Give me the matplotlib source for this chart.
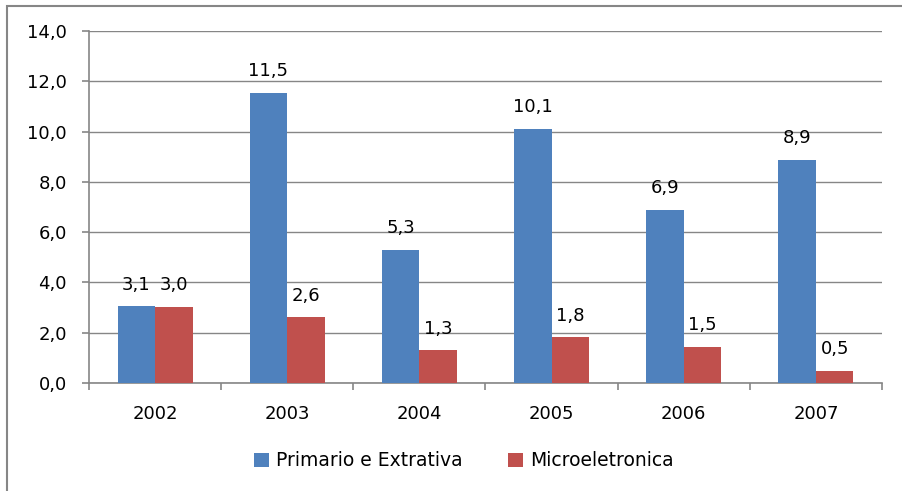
import matplotlib as mpl
mpl.use('Agg')
import matplotlib.pyplot as plt
import numpy as np
from matplotlib.patches import Rectangle

plt.rcParams['font.family'] = ['DejaVu Sans']

anos = ['2002', '2003', '2004', '2005', '2006', '2007']
primario = [3.06, 11.55, 5.3, 10.12, 6.9, 8.87]
micro = [3.04, 2.62, 1.3, 1.82, 1.45, 0.48]
rotulos_primario = ['3,1', '11,5', '5,3', '10,1', '6,9', '8,9']
rotulos_micro = ['3,0', '2,6', '1,3', '1,8', '1,5', '0,5']

azul = '#4F81BD'
vermelho = '#C0504D'
cinza = '#868686'
fs = 13

fig = plt.figure(figsize=(9.02, 4.91), dpi=100)
ax = fig.add_axes([89/902, 1-383/491, (882-89)/902, (383-31)/491])

# borda do grafico (estilo Excel)
fig.patches.append(Rectangle((7/902, -0.1), 1.2, 1-6/491+0.1, transform=fig.transFigure,
                             fill=False, edgecolor=cinza, linewidth=1.5))

x = np.arange(len(anos))
w = 0.284
b1 = ax.bar(x - w/2, primario, width=w, color=azul, label='Primario e Extrativa', zorder=3)
b2 = ax.bar(x + w/2, micro, width=w, color=vermelho, label='Microeletronica', zorder=3)

for barras, rot in ((b1, rotulos_primario), (b2, rotulos_micro)):
    for b, r in zip(barras, rot):
        ax.annotate(r, (b.get_x() + b.get_width()/2, b.get_height()),
                    xytext=(0, 9), textcoords='offset points', ha='center', va='bottom',
                    fontsize=fs, color='black')

ax.set_xlim(-0.5, len(anos) - 0.5)
ax.set_ylim(0, 14)
ax.set_yticks(np.arange(0, 14.1, 2))
ax.set_yticklabels([f'{v:.1f}'.replace('.', ',') for v in np.arange(0, 14.1, 2)])
ax.set_xticks(x)
ax.set_xticklabels(anos)
ax.set_xticks(np.arange(-0.5, len(anos), 1), minor=True)
ax.tick_params(axis='x', which='major', length=0, pad=16, labelsize=fs)
ax.tick_params(axis='x', which='minor', length=5, color=cinza, width=1.2)
ax.tick_params(axis='y', length=5, color=cinza, width=1.2, labelsize=fs, pad=11)
ax.yaxis.grid(True, color=cinza, linewidth=1.0, zorder=0)

for s in ('top', 'right'):
    ax.spines[s].set_visible(False)
for s in ('left', 'bottom'):
    ax.spines[s].set_color(cinza)
    ax.spines[s].set_linewidth(1.2)

fig.legend(handles=[b1, b2], loc='center', bbox_to_anchor=(464/902, 1-461/491),
           ncol=2, frameon=False, fontsize=13.5, handlelength=0.8, handleheight=0.8,
           columnspacing=2.4, handletextpad=0.4)

fig.savefig('out.png', dpi=100)
